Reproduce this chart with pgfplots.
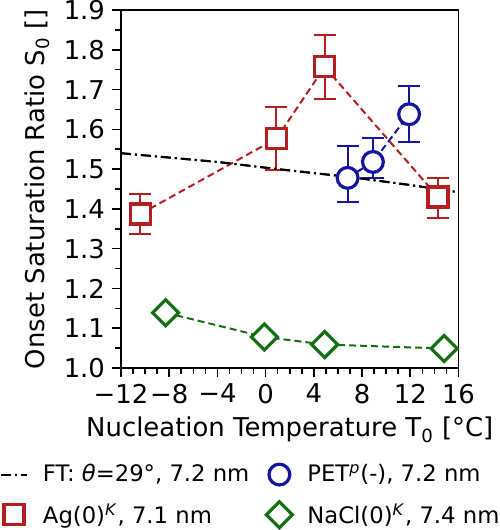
\documentclass[border=0pt]{standalone}
\usepackage{fontspec}
\setmainfont{DejaVu Sans}
\usepackage{pgfplots}
\pgfplotsset{compat=1.18}
\definecolor{cred}{RGB}{180,30,30}
\definecolor{cblue}{RGB}{20,20,160}
\definecolor{cgreen}{RGB}{20,110,20}
\begin{document}
\begin{tikzpicture}
\begin{axis}[
  name=ax,
  scale only axis, width=168.75bp, height=179bp,
  xmin=-12, xmax=16, ymin=1.0, ymax=1.9,
  xtick={-12,-8,-4,0,4,8,12,16},
  xticklabels={−12,−8,−4,0,4,8,12,16},
  ytick={1.0,1.1,1.2,1.3,1.4,1.5,1.6,1.7,1.8,1.9},
  y tick label style={/pgf/number format/.cd, fixed, fixed zerofill, precision=1},
  /pgf/number format/assume math mode=true,
  minor x tick num=3, minor y tick num=1,
  tick pos=left, tick align=outside,
  major tick length=4.5bp, minor tick length=3bp,
  every tick/.style={black, line width=0.8pt},
  axis line style={line width=1pt},
  font=\fontsize{13}{15}\selectfont,
  xlabel={Nucleation Temperature T\textsubscript{0} [°C]},
  ylabel={Onset Saturation Ratio S\textsubscript{0} []},
  legend columns=2,
  legend cell align=left,
  legend style={at={(-0.3585,-0.258)}, anchor=north west, draw=none, fill=none,
    inner sep=0pt, outer sep=0pt,
    font=\fontsize{11.4}{13}\selectfont, row sep=5.4bp,
    /tikz/every odd column/.append style={column sep=5.5bp},
    /tikz/every even column/.append style={column sep=6.5bp}},
  legend image code/.code={\draw[mark repeat=2,mark phase=2,#1] plot coordinates {(0bp,0bp)(6.5bp,0bp)(13bp,0bp)};},
]
% FT line (legend)
\addplot[black, line width=1pt, dash pattern=on 5bp off 2bp on 1bp off 2bp]
  coordinates {(-12,1.540) (-4,1.518) (1,1.500) (7,1.480) (12,1.460) (16,1.442)};
\addlegendentry{FT: \textit{θ}=29°, 7.2 nm}

% connecting dashed lines
\addplot[cblue, line width=1pt, dash pattern=on 3.5bp off 2bp, forget plot]
  coordinates {(6.8,1.478) (8.9,1.518) (11.9,1.638)};
\addplot[cred, line width=1pt, dash pattern=on 3.5bp off 2bp, forget plot]
  coordinates {(-10.4,1.387) (0.9,1.577) (4.9,1.757) (14.3,1.43)};
\addplot[cgreen, line width=1pt, dash pattern=on 3.5bp off 2bp, forget plot]
  coordinates {(-8.3,1.139) (-0.1,1.078) (4.9,1.059) (14.8,1.049)};

% PET
\addplot[cblue, only marks, mark=*, mark size=5.2bp,
  mark options={fill=white, draw=cblue, solid, line width=1.6pt},
  error bars/.cd, y dir=both, y explicit,
  error bar style={line width=1pt, solid},
  error mark options={rotate=90, mark size=5.5bp, line width=1pt}]
  coordinates {
    (6.8,1.478) += (0,0.08) -= (0,0.06)
    (8.9,1.518) += (0,0.06) -= (0,0.04)
    (11.9,1.638) += (0,0.07) -= (0,0.07)
  };
\addlegendentry{PET\textsuperscript{\textit{p}}(-), 7.2 nm}

% Ag
\addplot[cred, only marks, mark=square*, mark size=5bp,
  mark options={fill=white, draw=cred, solid, line width=1.6pt},
  error bars/.cd, y dir=both, y explicit,
  error bar style={line width=1pt, solid},
  error mark options={rotate=90, mark size=5.5bp, line width=1pt}]
  coordinates {
    (-10.4,1.387) += (0,0.05) -= (0,0.05)
    (0.9,1.577) += (0,0.08) -= (0,0.078)
    (4.9,1.757) += (0,0.08) -= (0,0.08)
    (14.3,1.43) += (0,0.048) -= (0,0.052)
  };
\addlegendentry{Ag(0)\textsuperscript{\textit{K}}, 7.1 nm}

% NaCl
\addplot[cgreen, only marks, mark=square*, mark size=4.6bp,
  mark options={fill=white, draw=cgreen, solid, line width=1.6pt, rotate=45}]
  coordinates {(-8.3,1.139) (-0.1,1.078) (4.9,1.059) (14.8,1.049)};
\addlegendentry{NaCl(0)\textsuperscript{\textit{K}}, 7.4 nm}

% FT line on top
\addplot[black, line width=1pt, dash pattern=on 5bp off 2bp on 1bp off 2bp, forget plot]
  coordinates {(-12,1.540) (-4,1.518) (1,1.500) (7,1.480) (12,1.460) (16,1.442)};
\end{axis}
\pgfresetboundingbox
\path[use as bounding box] ([shift={(-60.5bp,-81bp)}]ax.south west) rectangle ([shift={(189.5bp,184bp)}]ax.south west);
\end{tikzpicture}
\end{document}
